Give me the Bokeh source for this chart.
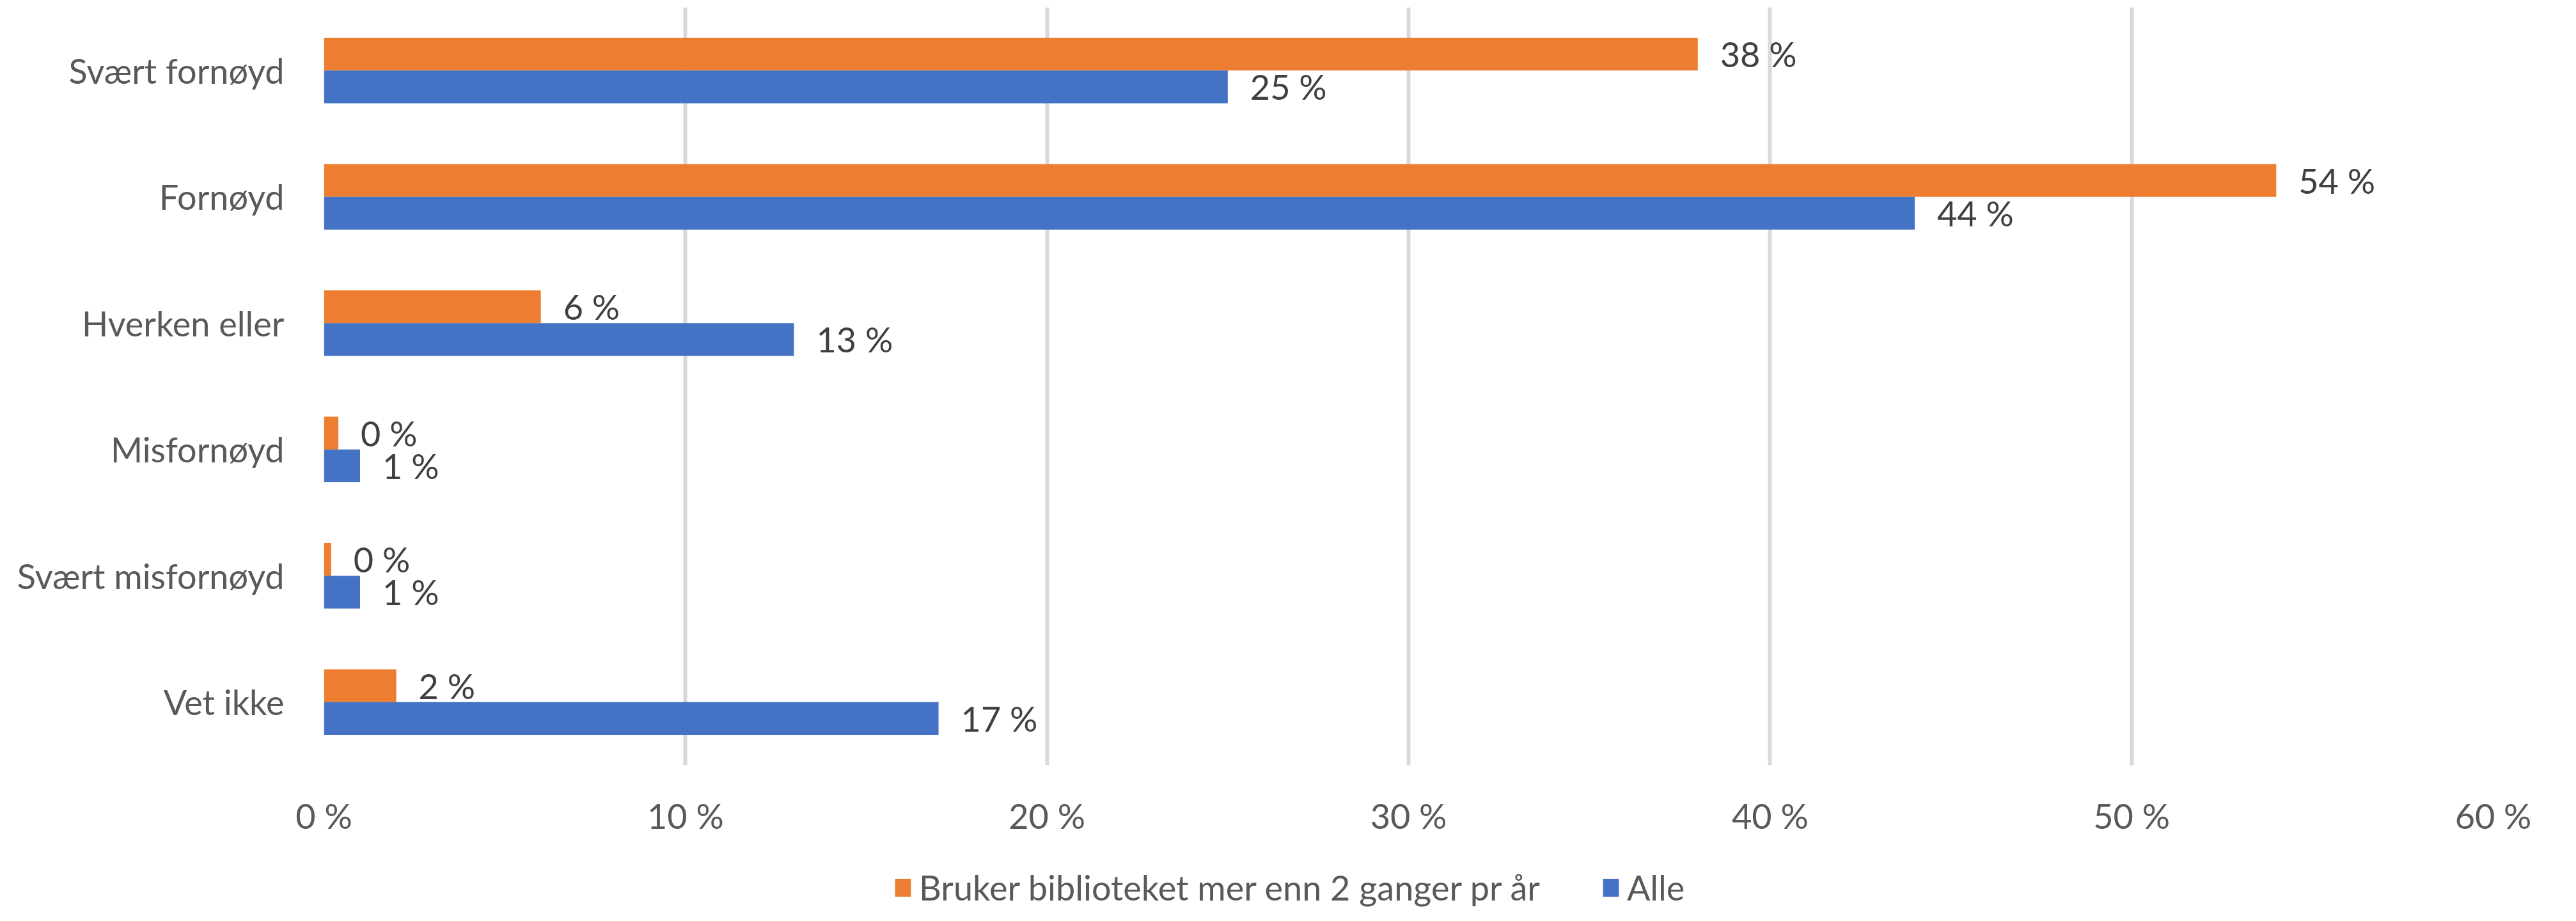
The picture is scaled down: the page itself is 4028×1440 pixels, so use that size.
from bokeh.plotting import figure
from bokeh.layouts import column
from bokeh.models import ColumnDataSource, FactorRange, Range1d, FixedTicker, Legend, LegendItem
from bokeh.transform import dodge
from bokeh.core.properties import value
from bokeh.embed import file_html
from bokeh.resources import INLINE

categories = ["Svært fornøyd", "Fornøyd", "Hverken eller", "Misfornøyd", "Svært misfornøyd", "Vet ikke"]
frequent_users = [38, 54, 6, 0.4, 0.2, 2]
all_users = [25, 44, 13, 1, 1, 17]
series_names = ["Bruker biblioteket mer enn 2 ganger pr år", "Alle"]
x_ticks = [0, 10, 20, 30, 40, 50, 60]
x_tick_labels = ["0 %", "10 %", "20 %", "30 %", "40 %", "50 %", "60 %"]

ORANGE = "#ED7D31"
BLUE = "#4472C4"
FONT = "Lato"
FS = "54px"

W = 4010
H_MAIN = 1310
H_LEG = 112

src = ColumnDataSource(dict(
    cat=categories,
    a=frequent_users,
    b=all_users,
    a_lbl=[f"{round(v)} %" for v in frequent_users],
    b_lbl=[f"{round(v)} %" for v in all_users],
))

p = figure(width=W, height=H_MAIN,
           y_range=FactorRange(*reversed(categories)),
           x_range=Range1d(0, 60),
           output_backend="svg", toolbar_location=None,
           min_border_left=506, min_border_right=112,
           min_border_top=11, min_border_bottom=H_MAIN - 1201)
p.y_range.range_padding = 0
p.outline_line_color = None
p.background_fill_color = "white"

bw = 0.26
r_a = p.hbar(y=dodge("cat", bw / 2, range=p.y_range), right="a", left=0, height=bw,
             color=ORANGE, line_color=None, source=src)
r_b = p.hbar(y=dodge("cat", -bw / 2, range=p.y_range), right="b", left=0, height=bw,
             color=BLUE, line_color=None, source=src)

p.text(x="a", y=dodge("cat", bw / 2, range=p.y_range), text="a_lbl", source=src,
       x_offset=35, text_baseline="middle", text_align="left",
       text_font=value(FONT), text_font_size=FS, text_color="#404040")
p.text(x="b", y=dodge("cat", -bw / 2, range=p.y_range), text="b_lbl", source=src,
       x_offset=35, text_baseline="middle", text_align="left",
       text_font=value(FONT), text_font_size=FS, text_color="#404040")

# axes
p.xaxis.ticker = FixedTicker(ticks=x_ticks)
p.xaxis.major_label_overrides = {t: l for t, l in zip(x_ticks, x_tick_labels)}
p.xaxis.axis_line_color = None
p.xaxis.major_tick_line_color = None
p.xaxis.minor_tick_line_color = None
p.xaxis.major_label_standoff = 40
p.xaxis.major_label_text_font = FONT
p.xaxis.major_label_text_font_size = FS
p.xaxis.major_label_text_color = "#595959"

p.yaxis.axis_line_color = None
p.yaxis.major_tick_line_color = None
p.yaxis.minor_tick_line_color = None
p.yaxis.major_label_standoff = 56
p.yaxis.major_label_text_font = FONT
p.yaxis.major_label_text_font_size = FS
p.yaxis.major_label_text_color = "#595959"

p.ygrid.grid_line_color = None
p.xgrid.grid_line_color = "#D9D9D9"
p.xgrid.grid_line_width = 6

# legend strip below the chart (its swatch renderers sit outside the visible range)
lf = figure(width=W, height=H_LEG, x_range=Range1d(0, 1), y_range=Range1d(0, 1),
            x_axis_type=None, y_axis_type=None,
            output_backend="svg", toolbar_location=None, min_border=0)
lf.outline_line_color = None
lf.grid.visible = False
la = lf.hbar(y=-10, right="a", left=0, height=0.5, color=ORANGE, line_color=None, source=src)
lb = lf.hbar(y=-10, right="b", left=0, height=0.5, color=BLUE, line_color=None, source=src)

legend = Legend(items=[LegendItem(label=series_names[0], renderers=[la]),
                       LegendItem(label=series_names[1], renderers=[lb])],
                orientation="horizontal", location=(890, 2),
                padding=0, margin=0, spacing=95, label_standoff=10,
                glyph_width=31, glyph_height=35,
                label_text_font=FONT, label_text_font_size=FS,
                label_text_color="#595959",
                border_line_color=None, background_fill_alpha=0)
lf.add_layout(legend, "center")

layout = column(p, lf, spacing=0)
open("out.html", "w").write(file_html(layout, INLINE))
